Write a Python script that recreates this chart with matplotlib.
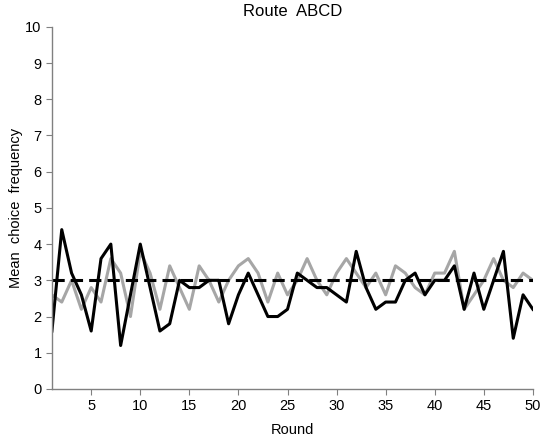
import matplotlib
matplotlib.use('Agg')
import matplotlib.pyplot as plt
import numpy as np

plt.rcParams['font.family'] = ['Liberation Sans', 'DejaVu Sans']

# Dane
rounds = np.arange(1, 51)
black_series = [1.6, 4.4, 3.2, 2.6, 1.6, 3.6, 4.0, 1.2, 2.6, 4.0,
                2.8, 1.6, 1.8, 3.0, 2.8, 2.8, 3.0, 3.0, 1.8, 2.6,
                3.2, 2.6, 2.0, 2.0, 2.2, 3.2, 3.0, 2.8, 2.8, 2.6,
                2.4, 3.8, 2.8, 2.2, 2.4, 2.4, 3.0, 3.2, 2.6, 3.0,
                3.0, 3.4, 2.2, 3.2, 2.2, 3.0, 3.8, 1.4, 2.6, 2.2]
gray_series = [2.6, 2.4, 3.0, 2.2, 2.8, 2.4, 3.6, 3.2, 2.0, 3.8,
               3.2, 2.2, 3.4, 2.8, 2.2, 3.4, 3.0, 2.4, 3.0, 3.4,
               3.6, 3.2, 2.4, 3.2, 2.6, 3.0, 3.6, 3.0, 2.6, 3.2,
               3.6, 3.2, 2.8, 3.2, 2.6, 3.4, 3.2, 2.8, 2.6, 3.2,
               3.2, 3.8, 2.2, 2.6, 3.0, 3.6, 3.0, 2.8, 3.2, 3.0]
reference_level = 3.0

fig = plt.figure(figsize=(5.41, 4.40), dpi=100)
ax = fig.add_axes([0.096, 0.116, 0.889, 0.823])

ax.plot(rounds, gray_series, color='#a6a6a6', lw=2.2)
ax.plot(rounds, black_series, color='black', lw=2.2)
ax.plot([rounds[0], rounds[-1]], [reference_level, reference_level],
        color='black', lw=2.2, ls=(0, (4, 2)))

ax.set_xlim(1, 50)
ax.set_ylim(0, 10)
ax.set_xticks(np.arange(5, 51, 5))
ax.set_yticks(np.arange(0, 11, 1))

for side in ['top', 'right']:
    ax.spines[side].set_visible(False)
for side in ['left', 'bottom']:
    ax.spines[side].set_color('#808080')
    ax.spines[side].set_linewidth(1)
ax.tick_params(direction='out', color='#808080', length=4, labelsize=10.5)

ax.set_title('Route  ABCD', fontsize=12, pad=8)
ax.set_xlabel('Round', fontsize=10.5, labelpad=7)
ax.set_ylabel('Mean  choice  frequency', fontsize=10.5, labelpad=1.5)

fig.savefig('out.png', dpi=100)
